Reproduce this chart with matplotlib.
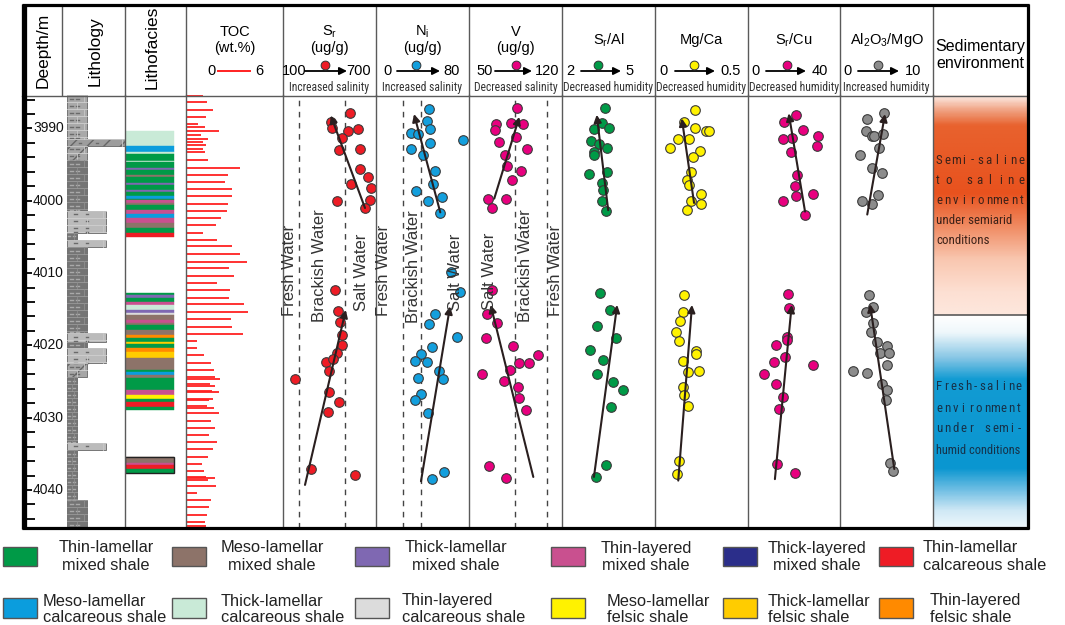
import os
import numpy as np
import matplotlib
matplotlib.use("Agg")
import matplotlib.pyplot as plt
from matplotlib import font_manager as fm
from matplotlib.font_manager import FontProperties
from matplotlib.patches import Rectangle, FancyArrowPatch
from matplotlib.lines import Line2D
from matplotlib.colors import LinearSegmentedColormap
from matplotlib.ticker import FixedLocator

# ---------------- DATA ----------------
DEPTH_TOP, DEPTH_BOT = 3985.37, 4045.26
depth_major = [3990, 4000, 4010, 4020, 4030, 4040]

lith_top = [3985.37, 3991.5, 3992.4, 3994.4, 4001.4, 4004.4, 4005.4, 4006.4, 4018.3,
            4019.5, 4020.4, 4022.5, 4024.4, 4033.5, 4034.5, 4041.4]
lith_bot = [3991.5, 3992.4, 3994.4, 4001.4, 4004.4, 4005.4, 4006.4, 4018.3, 4019.5,
            4020.4, 4022.5, 4024.4, 4033.5, 4034.5, 4041.4, 4045.26]
lith_type = ['A', 'B', 'C', 'D', 'E', 'F', 'E', 'D', 'E', 'D', 'E', 'C', 'F', 'E', 'F', 'D']

facies_top = [3990.4, 3992.4, 3993.3, 3993.5, 3994.5, 3994.7, 3995.4, 3995.7, 3996.4, 3996.7,
              3997.5, 3997.8, 3998.5, 3998.8, 3999.3, 3999.7, 3999.9, 4000.3, 4000.6, 4001.3,
              4001.8, 4002.4, 4003.1, 4003.8, 4004.5,
              4012.7, 4013.0, 4013.5, 4013.95, 4014.4, 4015.1, 4015.5, 4015.8, 4016.5, 4016.85,
              4017.2, 4017.9, 4018.55, 4019.0, 4019.5, 4019.8, 4020.4, 4020.9, 4021.8, 4023.4,
              4023.75, 4024.1, 4024.55, 4026.2, 4026.85, 4027.45, 4027.9, 4028.5,
              4035.4, 4036.3, 4036.6, 4037.1]
facies_bot = [3992.4, 3993.3, 3993.5, 3994.5, 3994.7, 3995.4, 3995.7, 3996.4, 3996.7, 3997.5,
              3997.8, 3998.5, 3998.8, 3999.3, 3999.7, 3999.9, 4000.3, 4000.6, 4001.3, 4001.8,
              4002.4, 4003.1, 4003.8, 4004.5, 4005.05,
              4013.0, 4013.5, 4013.95, 4014.4, 4015.1, 4015.5, 4015.8, 4016.5, 4016.85, 4017.2,
              4017.9, 4018.55, 4019.0, 4019.5, 4019.8, 4020.4, 4020.9, 4021.8, 4023.4, 4023.75,
              4024.1, 4024.55, 4026.2, 4026.85, 4027.45, 4027.9, 4028.5, 4028.9,
              4036.3, 4036.6, 4037.1, 4037.6]
facies_code = ['TkLC', 'MLC', 'TkLC', 'TLM', 'TkLC', 'TLM', 'TkLM', 'TLM', 'MLM', 'TLM',
               'TkLM', 'TLM', 'TkLM', 'TLM', 'MLC', 'TLM', 'TLyM', 'MLM', 'TLM', 'TLyM',
               'MLC', 'TLyM', 'MLM', 'TLM', 'TLC',
               'TLM', 'TkLM', 'TLM', 'TLyM', 'TkLC', 'TkLM', 'TLyC', 'MLM', 'TLyM', 'MLM',
               'TLM', 'MLM', 'TLyF', 'TLM', 'TkLF', 'TLM', 'TLyF', 'TkLF', 'MLM', 'TLM',
               'MLC', 'MLM', 'TLM', 'TLyM', 'MLF', 'TLM', 'TLC', 'TLM',
               'MLM', 'TLyM', 'TLC', 'TLM']

legend_codes = ['TLM', 'MLM', 'TkLM', 'TLyM', 'TkLyM', 'TLC',
                'MLC', 'TkLC', 'TLyC', 'MLF', 'TkLF', 'TLyF']
legend_labels = [['Thin-lamellar', 'mixed shale'], ['Meso-lamellar', 'mixed shale'],
                 ['Thick-lamellar', 'mixed shale'], ['Thin-layered', 'mixed shale'],
                 ['Thick-layered', 'mixed shale'], ['Thin-lamellar', 'calcareous shale'],
                 ['Meso-lamellar', 'calcareous shale'], ['Thick-lamellar', 'calcareous shale'],
                 ['Thin-layered', 'calcareous shale'], ['Meso-lamellar', 'felsic shale'],
                 ['Thick-lamellar', 'felsic shale'], ['Thin-layered', 'felsic shale']]
facies_color = {'TLM': '#009a47', 'MLM': '#8d7369', 'TkLM': '#7f68b2', 'TLyM': '#c9508f',
                'TkLyM': '#2b2e8a', 'TLC': '#ee1c25', 'MLC': '#0b9ddd', 'TkLC': '#c9ead7',
                'TLyC': '#dcdcdc', 'MLF': '#fff200', 'TkLF': '#ffcc00', 'TLyF': '#ff8a00'}

toc_depth = [3985.4, 3986.4, 3987.4, 3988.4, 3989.4, 3989.8, 3990.4, 3990.9, 3991.4, 3991.9,
             3992.3, 3992.9, 3993.3, 3994.4, 3995.4, 3996.4, 3997.4, 3998.4, 3999.4, 4000.4,
             4001.4, 4002.4, 4003.4, 4004.4, 4005.4, 4006.3, 4007.4, 4008.4, 4009.3, 4010.4,
             4011.4, 4012.3, 4013.4, 4014.3, 4015.4, 4016.4, 4017.4, 4018.4, 4019.4, 4020.4,
             4021.4, 4022.4, 4023.4, 4024.4, 4024.65, 4025.4, 4025.6, 4026.3, 4026.5, 4027.4,
             4027.6, 4028.4, 4028.6, 4029.4, 4030.4, 4031.4, 4032.4, 4033.4, 4034.4, 4035.4,
             4036.4, 4037.4, 4038.2, 4038.4, 4038.6, 4039.4, 4040.4, 4041.4, 4042.4, 4043.4,
             4044.4, 4045.0]
toc = [1.07, 1.32, 1.69, 1.22, 0.76, 1.18, 2.04, 0.91, 1.34, 1.07,
       1.24, 1.03, 1.18, 1.34, 3.34, 2.58, 2.41, 2.82, 2.85, 2.60,
       2.54, 2.14, 1.84, 1.07, 1.90, 2.87, 3.34, 3.79, 2.64, 2.95,
       1.94, 2.72, 2.68, 3.61, 3.81, 2.76, 2.87, 3.50, 0.66, 0.70,
       1.11, 1.57, 1.75, 1.79, 2.10, 1.48, 1.77, 1.59, 2.04, 1.69,
       1.40, 1.32, 1.75, 2.06, 1.55, 1.77, 1.42, 1.94, 1.65, 1.34,
       0.99, 1.11, 1.24, 1.79, 1.34, 1.86, 0.70, 1.57, 1.44, 1.32,
       1.20, 1.24]

sr_depth = [3987.9, 3989.1, 3989.9, 3990.4, 3990.1, 3991.3, 3993.0, 3992.8, 3995.6, 3996.7,
            3997.7, 3998.3, 4000.0, 3999.9, 4001.0, 4012.3, 4015.2, 4016.7, 4018.5, 4019.9,
            4021.0, 4022.3, 4021.9, 4023.5, 4024.7, 4026.5, 4027.8, 4029.2, 4037.1, 4037.9]
sr_val = [532, 408, 414, 521, 586, 479, 463, 597, 597, 646, 537, 666, 446, 661, 631,
          435, 457, 468, 483, 481, 446, 377, 421, 399, 179, 395, 459, 392, 281, 566]
sr_trend_x = [[629, 408], [242, 505]]
sr_trend_d = [[4001.0, 3988.2], [4039.3, 4015.1]]
sr_limits = [200, 500]

ni_depth = [3987.3, 3988.9, 3990.1, 3990.6, 3990.8, 3992.0, 3992.9, 3993.7, 3991.6, 3995.9,
            3997.7, 3999.5, 3998.7, 4000.1, 4001.7, 4009.9, 4012.6, 4015.6, 4017.0, 4018.8,
            4020.2, 4021.2, 4022.1, 4022.3, 4023.5, 4024.6, 4024.5, 4026.7, 4027.5, 4029.4,
            4037.5, 4038.5]
ni_val = [45.6, 43.6, 46.5, 30.1, 35.9, 46.5, 29.8, 40.2, 74.6, 50.8, 49.3, 57.0, 34.2,
          44.5, 55.3, 64.5, 72.3, 50.8, 45.6, 69.7, 48.4, 38.7, 33.5, 44.1, 54.5, 57.4,
          35.9, 38.5, 33.3, 44.5, 58.8, 47.9]
ni_trend_x = [[55.3, 32.7], [38.7, 63.7]]
ni_trend_d = [[4001.6, 3988.0], [4038.8, 4014.6]]
ni_limits = [23.5, 38.5]

v_depth = [3987.2, 3989.4, 3990.2, 3989.2, 3989.4, 3991.2, 3991.9, 3993.7, 3992.9, 3995.2,
           3995.9, 3997.1, 3999.8, 3999.8, 4001.0, 4012.3, 4015.6, 4016.9, 4019.0, 4020.1,
           4021.4, 4022.5, 4022.4, 4023.4, 4024.0, 4024.9, 4025.7, 4027.3, 4028.9, 4036.7,
           4038.4]
v_val = [85.9, 70.1, 69.8, 81.6, 90.9, 85.4, 72.6, 77.3, 93.7, 78.4, 89.1, 82.1, 64.5,
         77.9, 67.1, 67.5, 63.8, 71.3, 62.6, 83.3, 101.7, 87.6, 95.4, 80.9, 60.0, 76.6,
         87.1, 87.6, 92.7, 65.3, 77.9]
v_trend_x = [[69.0, 87.9], [98.4, 66.3]]
v_trend_d = [[3999.7, 3988.4], [4038.2, 4014.4]]
v_limits = [84.5, 108.5]

sral_depth = [3987.2, 3989.3, 3990.1, 3990.0, 3991.8, 3992.2, 3992.7, 3993.2, 3993.7, 3996.3,
              3996.0, 3997.5, 3998.5, 4000.0, 4001.4, 4012.7, 4015.1, 4017.3, 4019.0, 4020.6,
              4022.0, 4024.0, 4025.0, 4026.2, 4028.5, 4036.6, 4038.2]
sral_val = [3.39, 3.28, 3.04, 3.52, 2.93, 3.20, 3.46, 3.03, 3.03, 2.88, 3.46, 3.30, 3.33,
            3.28, 3.41, 3.23, 3.55, 3.14, 3.74, 2.90, 3.31, 3.12, 3.64, 3.98, 3.58, 3.42, 3.10]
sral_trend_x = [[3.49, 3.12], [3.03, 3.78]]
sral_trend_d = [[4001.3, 3988.1], [4038.2, 4014.4]]

mgca_depth = [3987.5, 3989.1, 3989.9, 3990.3, 3990.3, 3991.5, 3991.4, 3992.7, 3993.1, 3994.0,
              3996.0, 3997.1, 3997.8, 3999.0, 4000.1, 4000.5, 4001.3, 4013.0, 4015.4, 4016.6,
              4018.2, 4019.4, 4020.8, 4021.2, 4022.2, 4023.7, 4023.6, 4025.7, 4026.9, 4028.4,
              4036.0, 4037.8]
mgca_val = [0.215, 0.156, 0.215, 0.273, 0.292, 0.125, 0.184, 0.081, 0.242, 0.206, 0.194,
            0.170, 0.184, 0.246, 0.194, 0.246, 0.172, 0.158, 0.149, 0.134, 0.111, 0.129,
            0.220, 0.220, 0.152, 0.179, 0.238, 0.152, 0.156, 0.177, 0.131, 0.120]
mgca_trend_x = [[0.210, 0.144], [0.125, 0.199]]
mgca_trend_d = [[4000.3, 3988.6], [4038.7, 4014.4]]

srcu_depth = [3988.1, 3989.1, 3990.2, 3991.3, 3991.5, 3991.1, 3992.4, 3993.2, 3996.5, 3997.9,
              3999.3, 4000.0, 3999.1, 4001.9, 4012.9, 4014.9, 4018.8, 4019.3, 4020.0, 4022.3,
              4021.6, 4022.7, 4024.0, 4025.3, 4027.1, 4028.8, 4036.4, 4037.7]
srcu_val = [20.9, 15.8, 23.8, 19.0, 15.1, 30.4, 30.0, 18.7, 21.4, 20.4, 20.7, 15.1, 28.4,
            24.8, 17.5, 18.0, 16.8, 17.1, 12.0, 11.3, 16.1, 28.1, 7.0, 12.2, 15.3, 13.6,
            12.7, 20.4]
srcu_trend_x = [[24.8, 17.7], [11.7, 19.0]]
srcu_trend_d = [[4001.5, 3987.9], [4038.5, 4014.4]]

almg_depth = [3987.9, 3988.7, 3990.4, 3991.1, 3991.1, 3990.7, 3992.7, 3993.6, 3995.4, 3996.1,
              3999.2, 4000.0, 4000.5, 4013.0, 4014.7, 4015.4, 4016.9, 4018.2, 4019.6, 4020.1,
              4021.1, 4021.1, 4022.7, 4023.5, 4023.8, 4025.4, 4026.2, 4027.5, 4036.3, 4037.4]
almg_val = [4.76, 2.87, 2.76, 3.41, 3.69, 4.59, 4.22, 2.15, 3.41, 4.48, 4.09, 2.33, 3.41,
            3.12, 3.58, 2.76, 3.58, 3.33, 3.95, 5.02, 4.30, 5.30, 5.02, 1.43, 2.87, 4.48,
            5.02, 4.91, 5.38, 5.73]
almg_trend_x = [[2.93, 4.84], [5.84, 3.23]]
almg_trend_d = [[4001.9, 3988.0], [4037.1, 4014.3]]

env_top = [DEPTH_TOP, 4015.8]
env_bot = [4015.8, DEPTH_BOT]

# ---------------- FONTS ----------------
plt.rcParams['font.family'] = ['Liberation Sans', 'DejaVu Sans']
plt.rcParams['mathtext.default'] = 'regular'


def pick_condensed():
    for fam in ['Liberation Sans Narrow', 'Arial Narrow', 'Roboto Condensed',
                'Open Sans Condensed', 'Noto Sans Condensed', 'DejaVu Sans Condensed']:
        try:
            return fm.findfont(FontProperties(family=fam), fallback_to_default=False)
        except Exception:
            pass
    for fam in ['Roboto', 'Noto Sans', 'Open Sans', 'DejaVu Sans']:
        try:
            p = fm.findfont(FontProperties(family=fam, stretch='condensed'),
                            fallback_to_default=False)
            b = os.path.basename(p).lower()
            if 'condensed' in b or 'narrow' in b:
                return p
        except Exception:
            pass
    return fm.findfont(FontProperties(family='Liberation Sans'))


COND_PATH = pick_condensed()

# ---------------- FIGURE ----------------
W, H = 1065, 625
fig = plt.figure(figsize=(W / 100, H / 100), dpi=100)
renderer = fig.canvas.get_renderer()
Y0, Y1 = 95, 528
GRID = '#5a5a5a'


def cond(size):
    return FontProperties(fname=COND_PATH, size=size)


def fit(s, target_px, cap):
    w = renderer.get_text_width_height_descent(s, cond(10), ismath=False)[0]
    return min(cap, 10 * target_px / w)


def fline(x0, y0, x1, y1, **kw):
    fig.add_artist(Line2D([x0 / W, x1 / W], [1 - y0 / H, 1 - y1 / H],
                          transform=fig.transFigure, **kw))


def ftext(x, y, s, **kw):
    fig.text(x / W, 1 - y / H, s, **kw)


def col_ax(x0, x1, xlim):
    ax = fig.add_axes([x0 / W, 1 - Y1 / H, (x1 - x0) / W, (Y1 - Y0) / H])
    ax.set_xlim(*xlim)
    ax.set_ylim(DEPTH_BOT, DEPTH_TOP)
    ax.set_axis_off()
    return ax


# ---- depth axis ----
axd = fig.add_axes([24 / W, 1 - Y1 / H, (62 - 24) / W, (Y1 - Y0) / H])
axd.set_ylim(DEPTH_BOT, DEPTH_TOP)
axd.set_xlim(0, 1)
for s in axd.spines.values():
    s.set_visible(False)
axd.patch.set_visible(False)
axd.set_xticks([])
axd.yaxis.set_major_locator(FixedLocator(depth_major))
minor = [d for d in range(3986, 4046, 2) if d % 10 != 0]
axd.yaxis.set_minor_locator(FixedLocator(minor))
axd.tick_params(axis='y', which='major', direction='in', length=5.5, width=1.3,
                color='black', labelleft=False)
axd.tick_params(axis='y', which='minor', direction='in', length=8, width=1.3, color='black')
for d in depth_major:
    axd.text(0.24, d, str(d), transform=axd.get_yaxis_transform(), ha='left', va='center',
             fontsize=10, color='#111111')

# ---- lithology ----
axl = col_ax(62, 125, (0, 63))
LITH_STYLE = {'A': (5, 25, '#a9a9a9', False), 'B': (5, 63, '#9d9d9d', True),
              'C': (5, 25, '#a6a6a6', True), 'D': (5, 25, '#747474', False),
              'E': (5, 44, '#bbbbbb', False), 'F': (5, 15, '#747474', False)}
for t, b, k in zip(lith_top, lith_bot, lith_type):
    x0, x1, c, slash = LITH_STYLE[k]
    axl.add_patch(Rectangle((x0, t), x1 - x0, b - t, facecolor=c, edgecolor='#666666',
                            lw=0.6, hatch='//' if slash else None, zorder=2))
    dark = c == '#747474'
    mk = '#a9a9a9' if dark else '#6a6a6a'
    r = t
    i = 0
    while r < b - 0.05:
        r2 = min(r + 0.97, b)
        axl.plot([x0, x1], [r, r], color='#9a9a9a' if dark else '#d0d0d0', lw=0.6, zorder=3)
        mid = (r + r2) / 2
        w = x1 - x0
        for fx_ in np.arange(0.22, 0.8, 0.3 if w > 12 else 0.5):
            axl.plot([x0 + fx_ * w - 1.2, x0 + fx_ * w + 1.2], [mid, mid], color=mk, lw=1.0,
                     zorder=3)
        vx = x1 - 3 if i % 2 == 0 else x0 + 0.5 * w
        axl.plot([vx, vx], [r, r2], color='#8e8e8e' if dark else '#c8c8c8', lw=0.6, zorder=3)
        r = r2
        i += 1

# ---- lithofacies ----
axf = col_ax(125, 186, (0, 61))
for t, b, k in zip(facies_top, facies_bot, facies_code):
    axf.add_patch(Rectangle((0, t), 49, b - t, facecolor=facies_color[k],
                            edgecolor=facies_color[k], lw=0.3))
deep_t = [t for t in facies_top if t > 4030]
deep_b = [b for b in facies_bot if b > 4030]
axf.add_patch(Rectangle((0, min(deep_t)), 49, max(deep_b) - min(deep_t), fill=False,
                        edgecolor='#222222', lw=1.0))

# ---- TOC ----
axt = col_ax(186, 283, (0, 6))
axt.hlines(toc_depth, 0, toc, colors='#ff2121', lw=1.3)

# ---- geochemical columns ----
cols = [
    (283, 376, (100, 700), sr_depth, sr_val, '#ee1c25', sr_trend_x, sr_trend_d, sr_limits),
    (376, 469, (0, 80), ni_depth, ni_val, '#139fdd', ni_trend_x, ni_trend_d, ni_limits),
    (469, 562, (50, 120), v_depth, v_val, '#e8007f', v_trend_x, v_trend_d, v_limits),
    (562, 655, (2, 5), sral_depth, sral_val, '#009a47', sral_trend_x, sral_trend_d, []),
    (655, 748, (0, 0.5), mgca_depth, mgca_val, '#fff200', mgca_trend_x, mgca_trend_d, []),
    (748, 840, (0, 40), srcu_depth, srcu_val, '#e8007f', srcu_trend_x, srcu_trend_d, []),
    (840, 933, (0, 10), almg_depth, almg_val, '#8c8c8c', almg_trend_x, almg_trend_d, []),
]
for x0, x1, lim, dep, val, col, tx, td, lims in cols:
    ax = col_ax(x0, x1, lim)
    for lv in lims:
        ax.axvline(lv, color='#444444', lw=1.0, ls=(0, (4, 4)), zorder=1)
    ax.scatter(val, dep, s=48, c=col, edgecolors='#3a3a3a', linewidths=0.8, zorder=3,
               clip_on=False)
    for (xs, xe), (ds, de) in zip(tx, td):
        ax.annotate('', xy=(xe, de), xytext=(xs, ds),
                    arrowprops=dict(arrowstyle='-|>', color='#2a1f1f', lw=1.5,
                                    mutation_scale=11, shrinkA=0, shrinkB=0),
                    zorder=4, annotation_clip=False)

water = [(289, 270, 'Fresh Water'), (320, 266, 'Brackish Water'), (361, 272, 'Salt Water'),
         (383, 270, 'Fresh Water'), (413, 267, 'Brackish Water'), (455, 272, 'Salt Water'),
         (490, 271, 'Salt Water'), (525, 266, 'Brackish Water'), (556, 270, 'Fresh Water')]
for x, y, s in water:
    ftext(x, y, s, rotation=90, ha='center', va='center', fontsize=12, color='#333333')

# ---- sedimentary environment ----
axe = col_ax(933, 1027, (0, 1))
grad = np.linspace(0, 1, 300).reshape(-1, 1)
cm_up = LinearSegmentedColormap.from_list('up', [
    (0, '#fdf1ec'), (0.07, '#f0a282'), (0.14, '#e8622e'), (0.45, '#e8521e'),
    (0.6, '#f08b62'), (0.75, '#f9c7b0'), (0.9, '#fde0d3'), (1, '#fde7dd')])
cm_lo = LinearSegmentedColormap.from_list('lo', [
    (0, '#ffffff'), (0.08, '#eef7fb'), (0.2, '#86c6e5'), (0.3, '#129bd3'),
    (0.72, '#0a96d0'), (0.82, '#6cbde3'), (0.92, '#cfe8f5'), (1, '#eef7fc')])
axe.imshow(grad, cmap=cm_up, aspect='auto', extent=[0, 1, env_bot[0], env_top[0]],
           origin='upper', interpolation='bilinear')
axe.imshow(grad, cmap=cm_lo, aspect='auto', extent=[0, 1, env_bot[1], env_top[1]],
           origin='upper', interpolation='bilinear')
axe.set_xlim(0, 1)
axe.set_ylim(DEPTH_BOT, DEPTH_TOP)
axe.axhline(env_bot[0], color=GRID, lw=1.2)

ESZ = min(fit('under semiarid', 88, 12.5), fit('humid conditions', 84, 12.5) * 1.04)


def justify(text, x0, x1, y, color):
    n = len(text)
    cws = [renderer.get_text_width_height_descent(ch, cond(ESZ), ismath=False)[0]
           for ch in text]
    step = (x1 - x0 - (cws[0] + cws[-1]) / 2) / (n - 1)
    for i, ch in enumerate(text):
        if ch != ' ':
            ftext(x0 + cws[0] / 2 + i * step, y, ch, ha='center', va='center',
                  fontproperties=cond(ESZ), color=color)


def plain(text, x0, width, y, color):
    sz = min(ESZ, fit(text, width, 13))
    ftext(x0, y, text, ha='left', va='center', fontproperties=cond(sz), color=color)


up_c, lo_c = '#3d2219', '#16324a'
for s, j, y in [('Semi-saline', True, 160), ('to saline', True, 180),
                ('environment', True, 200), ('under semiarid', False, 220),
                ('conditions', False, 240)]:
    if j:
        justify(s, 936, 1024, y, up_c)
    else:
        plain(s, 936, 88, y, up_c)
for s, j, y in [('Fresh-saline', True, 387), ('environment', True, 408),
                ('under semi-', True, 429), ('humid conditions', False, 450)]:
    if j:
        justify(s, 936, 1021, y, lo_c)
    else:
        plain(s, 936, 84, y, lo_c)

# ---------------- HEADER ----------------
ftext(43, 50, 'Deepth/m', rotation=90, ha='center', va='center', fontsize=12.5)
ftext(95, 51, 'Lithology', rotation=90, ha='center', va='center', fontsize=12.5)
ftext(152, 47, 'Lithofacies', rotation=90, ha='center', va='center', fontsize=12.5)

HS = 10.5
ftext(234.5, 32, 'TOC', ha='center', va='center', fontsize=HS)
ftext(234.5, 48, '(wt.%)', ha='center', va='center', fontsize=HS)
ftext(211, 71, '0', ha='center', va='center', fontsize=HS)
fline(218, 71, 250, 71, color='#ff2121', lw=1.4)
ftext(259, 71, '6', ha='center', va='center', fontsize=HS)

titles = [(329.5, 32, r'S$_{r}$', True), (422.5, 32, r'N$_{i}$', True), (515.5, 32, 'V', True),
          (608.5, 40, r'S$_{r}$/Al', False), (701.5, 40, 'Mg/Ca', False),
          (794, 40, r'S$_{r}$/Cu', False), (886.5, 40, r'Al$_{2}$O$_{3}$/MgO', False)]
for x, y, s, unit in titles:
    ftext(x, y, s, ha='center', va='center', fontsize=HS)
    if unit:
        ftext(x, 48, '(ug/g)', ha='center', va='center', fontsize=HS)

scales = [(294, 305, 347, 359, 325, '100', '700', '#ee1c25'),
          (388, 397, 440, 452, 416, '0', '80', '#139fdd'),
          (485, 495, 532, 547, 516, '50', '120', '#e8007f'),
          (570, 581, 621, 630, 598, '2', '5', '#009a47'),
          (664, 675, 715, 731, 694, '0', '0.5', '#fff200'),
          (755, 766, 806, 820, 787, '0', '40', '#e8007f'),
          (848, 858, 899, 913, 878, '0', '10', '#8c8c8c')]
for xl, a0, a1, xh, xd, lo, hi, c in scales:
    ftext(xl, 71, lo, ha='center', va='center', fontsize=HS)
    ftext(xh, 71, hi, ha='center', va='center', fontsize=HS)
    fig.add_artist(FancyArrowPatch((a0 / W, 1 - 71 / H), (a1 / W, 1 - 71 / H),
                                   transform=fig.transFigure, arrowstyle='-|>',
                                   mutation_scale=11, lw=1.3, color='black',
                                   shrinkA=0, shrinkB=0))
    fig.add_artist(Line2D([xd / W], [1 - 65 / H], marker='o', ms=6.3, mfc=c, mec='#333333',
                          mew=0.7, transform=fig.transFigure))

NSZ = fit('Decreased humidity', 90, 10)
notes = [(329.5, 'Increased salinity'), (422.5, 'Increased salinity'),
         (515.5, 'Decreased salinity'), (608.5, 'Decreased humidity'),
         (701.5, 'Decreased humidity'), (794, 'Decreased humidity'),
         (886.5, 'Increased humidity')]
for x, s in notes:
    ftext(x, 87, s, ha='center', va='center', fontproperties=cond(NSZ), color='#333333')

ftext(980, 47, 'Sedimentary', ha='center', va='center', fontsize=11.5)
ftext(980, 63, 'environment', ha='center', va='center', fontsize=11.5)

# ---------------- GRID / FRAME ----------------
for x in [62, 125, 186, 283, 376, 469, 562, 655, 748, 840, 933]:
    fline(x, 5, x, 95, color=GRID, lw=1.0)
for x in [125, 186, 283, 376, 469, 562, 655, 748, 840, 933]:
    fline(x, 95, x, 528, color=GRID, lw=1.0)
fline(22, 95.5, 1027, 95.5, color=GRID, lw=1.0)
fline(23.5, 3.5, 23.5, 529, color='black', lw=3.8, solid_capstyle='butt')
fline(22, 5, 1028.5, 5, color='black', lw=2.3, solid_capstyle='butt')
fline(1027.5, 4, 1027.5, 529, color='black', lw=2.3, solid_capstyle='butt')
fline(22, 528, 1028.5, 528, color='black', lw=2.3, solid_capstyle='butt')

# ---------------- LEGEND ----------------
px0 = [3, 172, 355, 551, 723, 879]
row_y = [(547, 566), (598, 618)]
text_y = [(548, 565), (601, 618)]
LS = 11.8
row1_cx = [106, 272, 456, 646, 817]
row2_lx = [43, 221, 402, 607, 768, 930]
for i, (code, lab) in enumerate(zip(legend_codes, legend_labels)):
    r, c = divmod(i, 6)
    ya, yb = row_y[r]
    fig.add_artist(Rectangle((px0[c] / W, 1 - yb / H), 34 / W, (yb - ya) / H,
                             facecolor=facies_color[code], edgecolor='#555555', lw=1.0,
                             transform=fig.transFigure))
    for line, yy in zip(lab, text_y[r]):
        if r == 0 and c < 5:
            ftext(row1_cx[c], yy, line, ha='center', va='center', fontsize=LS, color='#222222')
        elif r == 0:
            ftext(923, yy, line, ha='left', va='center', fontsize=LS, color='#222222')
        else:
            ftext(row2_lx[c], yy, line, ha='left', va='center', fontsize=LS, color='#222222')

fig.savefig('out.png', dpi=100)
